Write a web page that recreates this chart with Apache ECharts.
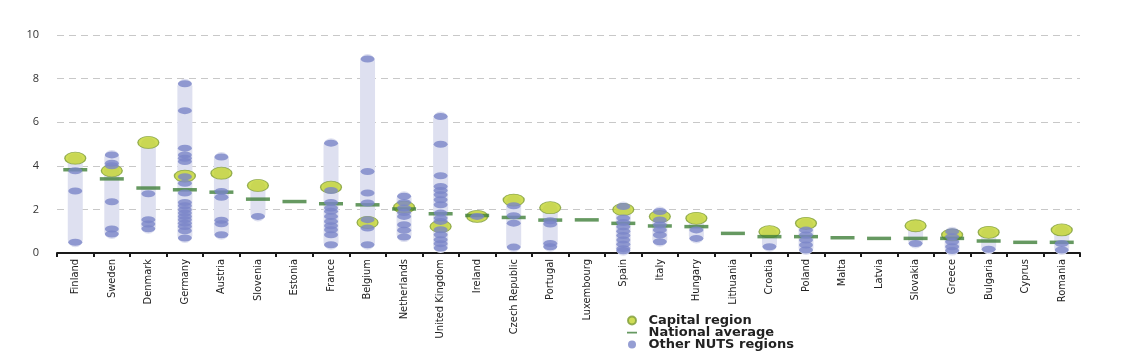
<!DOCTYPE html>
<html>
<head>
<meta charset="utf-8">
<script src="https://cdn.jsdelivr.net/npm/echarts@6/dist/echarts.min.js"></script>
<style>
html, body { margin: 0; padding: 0; background: #fff; }
#container { width: 1121px; height: 353px; }
</style>
</head>
<body>
<div id="container"></div>
<script>
var countries = ['Finland', 'Sweden', 'Denmark', 'Germany', 'Austria', 'Slovenia', 'Estonia', 'France',
    'Belgium', 'Netherlands', 'United Kingdom', 'Ireland', 'Czech Republic', 'Portugal', 'Luxembourg',
    'Spain', 'Italy', 'Hungary', 'Lithuania', 'Croatia', 'Poland', 'Malta', 'Latvia', 'Slovakia',
    'Greece', 'Bulgaria', 'Cyprus', 'Romania'];

var capital = [4.35, 3.77, 5.07, 3.53, 3.66, 3.1, null, 3.02, 1.4, 2.1, 1.22, 1.68, 2.43, 2.08, null,
    2.0, 1.67, 1.59, null, 0.98, 1.36, null, null, 1.25, 0.83, 0.95, null, 1.06];

var national = [3.82, 3.4, 2.98, 2.9, 2.79, 2.47, 2.36, 2.26, 2.21, 2.02, 1.8, 1.72, 1.63, 1.51, 1.52,
    1.36, 1.24, 1.21, 0.9, 0.75, 0.75, 0.7, 0.67, 0.67, 0.67, 0.55, 0.49, 0.49];

var others = [
    [3.77, 2.84, 0.49],                                  // Finland
    [4.5, 4.12, 4.0, 2.35, 1.1, 0.87],                   // Sweden
    [2.72, 1.53, 1.33, 1.11],                            // Denmark
    [7.76, 6.53, 4.81, 4.5, 4.35, 4.2, 3.5, 3.2, 2.75, 2.32, 2.17, 1.98, 1.83, 1.68, 1.53, 1.37, 1.22, 1.02, 0.69],
    [4.4, 2.82, 2.56, 1.5, 1.34, 0.84],                  // Austria
    [1.68],                                              // Slovenia
    [],                                                  // Estonia
    [5.04, 2.87, 2.32, 2.06, 1.91, 1.68, 1.45, 1.25, 1.07, 0.84, 0.38],
    [8.9, 3.74, 2.75, 2.29, 1.53, 1.15, 0.38],           // Belgium
    [2.6, 2.32, 2.06, 1.86, 1.68, 1.3, 1.04, 0.73],      // Netherlands
    [6.26, 4.99, 3.54, 3.05, 2.87, 2.67, 2.44, 2.21, 1.83, 1.6, 1.45, 1.07, 0.84, 0.61, 0.43, 0.23],
    [1.68],                                              // Ireland
    [2.17, 1.71, 1.37, 0.27],                            // Czech Republic
    [1.48, 1.33, 0.44, 0.29],                            // Portugal
    [],                                                  // Luxembourg
    [2.13, 1.6, 1.4, 1.2, 1.0, 0.8, 0.6, 0.4, 0.2, 0.1], // Spain
    [1.9, 1.51, 1.28, 1.06, 0.83, 0.52],                 // Italy
    [1.06, 0.67],                                        // Hungary
    [],                                                  // Lithuania
    [0.29],                                              // Croatia
    [1.05, 0.83, 0.6, 0.37, 0.14],                       // Poland
    [],                                                  // Malta
    [],                                                  // Latvia
    [0.44],                                              // Slovakia
    [0.98, 0.75, 0.52, 0.29, 0.11],                      // Greece
    [0.17],                                              // Bulgaria
    [],                                                  // Cyprus
    [0.44, 0.14]                                         // Romania
];

var yTicks = [0, 2, 4, 6, 8, 10];

// build series data
var rangeData = [], otherData = [], capitalData = [], nationalData = [];
countries.forEach(function (c, i) {
    var vals = others[i].slice();
    if (capital[i] != null) {
        capitalData.push([i, capital[i]]);
        vals.push(capital[i]);
    }
    nationalData.push([i, national[i]]);
    others[i].forEach(function (v) { otherData.push([i, v]); });
    if (others[i].length) {
        rangeData.push([i, Math.min.apply(null, vals), Math.max.apply(null, vals)]);
    }
});

function renderRange(params, api) {
    var lo = api.coord([api.value(0), api.value(1)]);
    var hi = api.coord([api.value(0), api.value(2)]);
    var w = 15, pad = 5;
    return {
        type: 'rect',
        shape: { x: lo[0] - w / 2, y: hi[1] - pad, width: w, height: lo[1] - hi[1] + 2 * pad, r: w / 2 },
        style: { fill: '#dee0f0' }
    };
}

var narrow = "'Liberation Sans Narrow', 'DejaVu Sans Condensed', 'Roboto', sans-serif";

var dom = document.getElementById('container');
var myChart = echarts.init(dom);

var option = {
    animation: false,
    grid: { left: 57, right: 41, top: 35, bottom: 100 },
    legend: {
        orient: 'vertical',
        left: 627,
        top: 314,
        height: 80,
        itemWidth: 11,
        itemHeight: 8,
        itemGap: -1,
        padding: 0,
        textStyle: {
            fontFamily: 'DejaVu Sans',
            fontWeight: 'bold',
            fontSize: 13,
            color: '#222',
            lineHeight: 12,
            padding: [0, 0, 0, 6]
        },
        data: [
            { name: 'Capital region', icon: 'circle' },
            { name: 'National average', icon: 'path://M0,0h0.01v0.01h-0.01z M0,3.2h10v1.8h-10z M0,8h0.01v0.01h-0.01z' },
            { name: 'Other NUTS regions', icon: 'circle' }
        ]
    },
    xAxis: {
        type: 'category',
        data: countries,
        boundaryGap: true,
        axisLine: { lineStyle: { color: '#1a1a1a', width: 2 } },
        axisTick: { show: true, length: 4, lineStyle: { color: '#1a1a1a', width: 2 } },
        axisLabel: {
            interval: 0,
            rotate: 90,
            margin: 6,
            fontFamily: narrow,
            fontSize: 11,
            color: '#222'
        }
    },
    yAxis: {
        type: 'value',
        min: yTicks[0],
        max: yTicks[yTicks.length - 1],
        interval: 2,
        axisLine: { show: false },
        axisTick: { show: false },
        axisLabel: { margin: 18, fontFamily: 'Open Sans', fontSize: 11, color: '#333' },
        splitLine: { lineStyle: { color: '#c8c8c8', type: [7, 5], width: 1 } }
    },
    series: [
        {
            name: 'range',
            type: 'custom',
            renderItem: renderRange,
            encode: { x: 0, y: [1, 2] },
            data: rangeData,
            z: 1
        },
        {
            name: 'Capital region',
            type: 'scatter',
            symbol: 'circle',
            symbolSize: [21, 12],
            itemStyle: { color: '#c3d52d', borderColor: '#7e9c3a', borderWidth: 1 },
            data: capitalData,
            z: 2
        },
        {
            name: 'National average',
            type: 'scatter',
            symbol: 'rect',
            symbolSize: [24, 3.5],
            itemStyle: { color: '#40803a' },
            data: nationalData,
            z: 3
        },
        {
            name: 'Other NUTS regions',
            type: 'scatter',
            symbol: 'circle',
            symbolSize: [14, 7],
            itemStyle: { color: '#7a86c8' },
            data: otherData,
            z: 4
        }
    ]
};

if (option && typeof option === 'object') {
    myChart.setOption(option, true);
}
</script>
</body>
</html>
